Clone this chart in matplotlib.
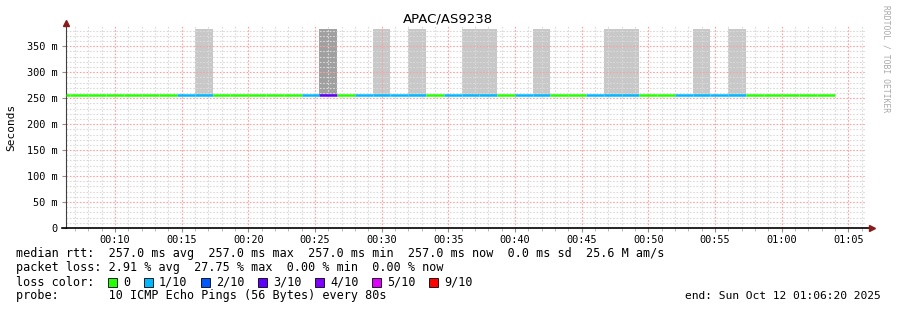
import matplotlib
matplotlib.use('Agg')
import matplotlib.pyplot as plt
from matplotlib.patches import Rectangle

# ---- data ----
title = 'APAC/AS9238'
first_step_s = 5 * 60 + 20      # start of the first 80 s step (00:05:20)
step_s = 80

# median rtt per step (ms)
median_ms = [257.0, 257.0, 257.0, 257.0, 257.0, 257.0, 257.0, 257.0, 257.0, 257.0,
             257.0, 257.0, 257.0, 257.0, 257.0, 257.0, 257.0, 257.0, 257.0, 257.0,
             257.0, 257.0, 257.0, 257.0, 257.0, 257.0, 257.0, 257.0, 257.0, 257.0,
             257.0, 257.0, 257.0, 257.0, 257.0, 257.0, 257.0, 257.0, 257.0, 257.0,
             257.0, 257.0, 257.0, 257.0]
# lost pings (of 10) per step -> grey bars
loss = [0, 0, 0, 0, 0, 0, 0, 0, 1, 0,
        0, 0, 0, 0, 0, 3, 0, 0, 1, 0,
        1, 0, 0, 1, 1, 0, 0, 1, 0, 0,
        0, 1, 1, 0, 0, 0, 1, 0, 1, 0,
        0, 0, 0, 0]
# loss colour index of the median line per step
line_loss = [0, 0, 0, 0, 0, 0, 0, 1, 1, 0,
             0, 0, 0, 0, 1, 3, 0, 1, 1, 1,
             1, 0, 1, 1, 1, 0, 1, 1, 0, 0,
             1, 1, 1, 0, 0, 1, 1, 1, 1, 0,
             0, 0, 0, 0]

loss_labels = ['0', '1/10', '2/10', '3/10', '4/10', '5/10', '9/10']
loss_colors = ['#26ff00', '#00b8ff', '#0059ff', '#5e00ff', '#7e00ff', '#dd00ff', '#ff0000']
color_by_loss = {0: '#26ff00', 1: '#00b8ff', 2: '#0059ff', 3: '#5e00ff'}
bar_grey = {1: '#c8c8c8', 3: '#a0a0a0'}

x_ticks = [10, 15, 20, 25, 30, 35, 40, 45, 50, 55, 60, 65]
x_labels = ['00:10', '00:15', '00:20', '00:25', '00:30', '00:35', '00:40',
            '00:45', '00:50', '00:55', '01:00', '01:05']
y_ticks = [0, 50, 100, 150, 200, 250, 300, 350]
y_labels = ['0', '50 m', '100 m', '150 m', '200 m', '250 m', '300 m', '350 m']

legend_lines = [
    'median rtt:  257.0 ms avg  257.0 ms max  257.0 ms min  257.0 ms now  0.0 ms sd  25.6 M am/s',
    'packet loss: 2.91 % avg  27.75 % max  0.00 % min  0.00 % now',
]
probe_text = 'probe:       10 ICMP Echo Pings (56 Bytes) every 80s'
end_text = 'end: Sun Oct 12 01:06:20 2025'

x_min, x_max = 6 + 20 / 60, 66 + 20 / 60
y_max = 389
bar_top = 384

mono = 'DejaVu Sans Mono'
W, H = 897, 310

fig = plt.figure(figsize=(W / 100, H / 100), dpi=100)
ax = fig.add_axes([66 / W, (H - 228) / H, 800 / W, (228 - 26) / H])

starts = [(first_step_s + i * step_s) / 60 for i in range(len(median_ms))]
ends = [s + step_s / 60 for s in starts]
starts_c = [max(s, x_min) for s in starts]

# loss bars
for s, m, l in zip(starts, median_ms, loss):
    if l > 0:
        ax.bar(s, bar_top - m, bottom=m, width=step_s / 60, align='edge',
               color=bar_grey[l], lw=0, zorder=1)

# median line coloured by loss
ax.hlines(median_ms, starts_c, ends, colors=[color_by_loss[c] for c in line_loss],
          lw=1.8, zorder=3, capstyle='butt')

ax.set_xlim(x_min, x_max)
ax.set_ylim(0, y_max)

ax.set_xticks(x_ticks)
ax.set_xticklabels(x_labels, family=mono, fontsize=7.4)
ax.set_xticks(range(7, 67), minor=True)
ax.set_yticks(y_ticks)
ax.set_yticklabels(y_labels, family=mono, fontsize=7.4)
ax.set_yticks(range(10, y_max, 10), minor=True)

ax.tick_params(axis='x', which='major', length=3, color='#909090', pad=2)
ax.tick_params(axis='x', which='minor', length=2, color='#b0b0b0')
ax.tick_params(axis='y', which='major', length=3, color='#909090', pad=3)
ax.tick_params(axis='y', which='minor', length=0)

ax.set_axisbelow('line')
ax.grid(which='minor', color='#dadada', lw=0.8, ls=(0, (1.5, 1.5)))
ax.grid(which='major', color='#ffa0a0', lw=0.8, ls=(0, (1.5, 1.5)))

for side in ['top', 'right']:
    ax.spines[side].set_visible(False)
ax.spines['left'].set_color('#404040')
ax.spines['left'].set_linewidth(0.8)
ax.spines['bottom'].set_color('black')
ax.spines['bottom'].set_linewidth(1.2)
ax.spines['bottom'].set_bounds(x_min - 0.3, x_max + 0.2)
ax.spines['left'].set_bounds(0, y_max + 4)

# axis arrows
ax.plot([x_min], [y_max + 6], marker='^', color='#8b1a1a', ms=4.5, clip_on=False, zorder=5)
ax.plot([x_max + 0.45], [0], marker='>', color='#8b1a1a', ms=4.5, clip_on=False, zorder=5)

ax.set_ylabel('Seconds', family=mono, fontsize=8)
ax.yaxis.set_label_coords(-50 / 800, 0.5)

fig.text(448 / W, 1 - 19 / H, title, ha='center', va='center', fontsize=9.5,
         family='DejaVu Sans')
fig.text(886 / W, 1 - 5 / H, 'RRDTOOL / TOBI OETIKER', rotation=270, ha='center',
         va='top', fontsize=5.8, family=mono, color='#a8a8a8')

# legend text
fs = 8.5
cw = 7.1
for i, line in enumerate(legend_lines):
    fig.text(16 / W, 1 - (254 + 14 * i) / H, line, ha='left', va='center',
             family=mono, fontsize=fs)
fig.text(16 / W, 1 - 282 / H, 'loss color:', ha='left', va='center', family=mono, fontsize=fs)
x = 108
for lab, col in zip(loss_labels, loss_colors):
    fig.patches.append(Rectangle((x / W, 1 - 287 / H), 9 / W, 9 / H, transform=fig.transFigure,
                                 facecolor=col, edgecolor='black', lw=0.6))
    fig.text((x + 15) / W, 1 - 282 / H, lab, ha='left', va='center', family=mono, fontsize=fs)
    x = x + 15 + (len(lab) + 2) * 7.0
fig.text(16 / W, 1 - 296 / H, probe_text, ha='left', va='center', family=mono, fontsize=fs)
fig.text(881 / W, 1 - 296 / H, end_text, ha='right', va='center', family=mono, fontsize=8.1)

fig.savefig('out.png', dpi=100)
